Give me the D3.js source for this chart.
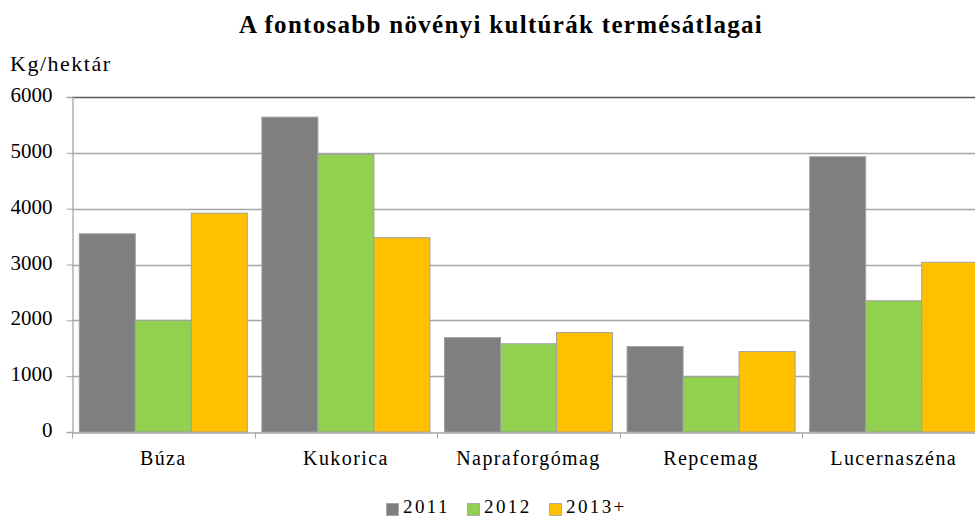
<!DOCTYPE html>
<html><head><meta charset="utf-8">
<script src="https://cdn.jsdelivr.net/npm/d3@7"></script>
<style>body{margin:0;background:#fff;overflow:hidden}svg{display:block}text{font-family:"Liberation Serif","DejaVu Serif",serif;fill:#000}</style>
</head><body><svg id="c" width="975" height="518"></svg>
<script>
const categories = ["Búza","Kukorica","Napraforgómag","Repcemag","Lucernaszéna"];
const seriesNames = ["2011","2012","2013+"];
const v2011 = [3550,5640,1690,1530,4930];
const v2012 = [2000,4970,1580,990,2350];
const v2013 = [3920,3480,1780,1440,3040];
const yTicks = [0,1000,2000,3000,4000,5000,6000];
const colors = ["#7f7f7f","#92d050","#ffc000"];
const seriesValues = [v2011,v2012,v2013];

const svg = d3.select("#c");
const pL = 72, pR = 985, pT = 97, pB = 432;
const x = d3.scaleBand().domain(categories).range([pL,pR]).paddingInner(0).paddingOuter(0);
const inner = d3.scaleBand().domain(seriesNames).range([0,x.bandwidth()]).paddingInner(0).paddingOuter(0.13);
const y = d3.scaleLinear().domain([0,6000]).range([pB,pT]);

svg.append("text").attr("x",501).attr("y",33).attr("text-anchor","middle")
  .style("font-weight","bold").style("font-size","25px").style("letter-spacing","1.3px")
  .text("A fontosabb növényi kultúrák termésátlagai");
svg.append("text").attr("x",10).attr("y",71).style("font-size","22px").style("letter-spacing","1.5px").text("Kg/hektár");

// gridlines
svg.append("g").selectAll("line").data(yTicks.filter(d=>d>0)).join("line")
  .attr("x1",pL).attr("x2",975).attr("y1",d=>Math.round(y(d))+0.5).attr("y2",d=>Math.round(y(d))+0.5)
  .attr("stroke",d=>d===6000?"#595959":"#a6a6a6").attr("stroke-width",1.3);

// bars
seriesNames.forEach((s,i)=>{
  svg.append("g").selectAll("rect").data(categories).join("rect")
    .attr("x",(c)=>x(c)+inner(s))
    .attr("width",inner.bandwidth())
    .attr("y",(c,j)=>y(seriesValues[i][j]))
    .attr("height",(c,j)=>pB-y(seriesValues[i][j]))
    .attr("fill",colors[i]).attr("stroke","#a0a0a0").attr("stroke-width",1);
});

// y axis
const ya = svg.append("g").attr("transform",`translate(${pL+0.5},0)`)
  .call(d3.axisLeft(y).tickValues(yTicks).tickSize(6).tickPadding(14).tickFormat(d3.format("d")));
ya.select(".domain").attr("stroke","#a6a6a6").attr("stroke-width",1.3);
ya.selectAll(".tick line").attr("stroke","#a6a6a6");
ya.selectAll("text").attr("dy","0.22em").style("font-size","21px").style("font-family","'Liberation Serif',serif").attr("fill","#000");

// x axis
const xa = svg.append("g").attr("transform",`translate(0,${pB+0.5})`)
  .call(d3.axisBottom(x).tickSize(0).tickPadding(18));
xa.select(".domain").attr("stroke","#a6a6a6").attr("stroke-width",1.3);
xa.selectAll("text").style("font-size","20px").style("letter-spacing","1.4px")
  .style("font-family","'Liberation Serif',serif").attr("fill","#000");
const bounds = categories.map(c=>x(c)).concat([x(categories[categories.length-1])+x.bandwidth()]);
xa.append("g").selectAll("line").data(bounds).join("line")
  .attr("x1",d=>Math.round(d)+0.5).attr("x2",d=>Math.round(d)+0.5).attr("y1",0).attr("y2",6)
  .attr("stroke","#a6a6a6");

// legend
const legX = [386,467,549];
const lg = svg.append("g");
seriesNames.forEach((s,i)=>{
  lg.append("rect").attr("x",legX[i]+0.5).attr("y",503.5).attr("width",12).attr("height",12)
    .attr("fill",colors[i]).attr("stroke","#a0a0a0").attr("stroke-width",0.8);
  lg.append("text").attr("x",legX[i]+17).attr("y",513).style("font-size","19px").style("letter-spacing","2.4px").text(s);
});
</script></body></html>
